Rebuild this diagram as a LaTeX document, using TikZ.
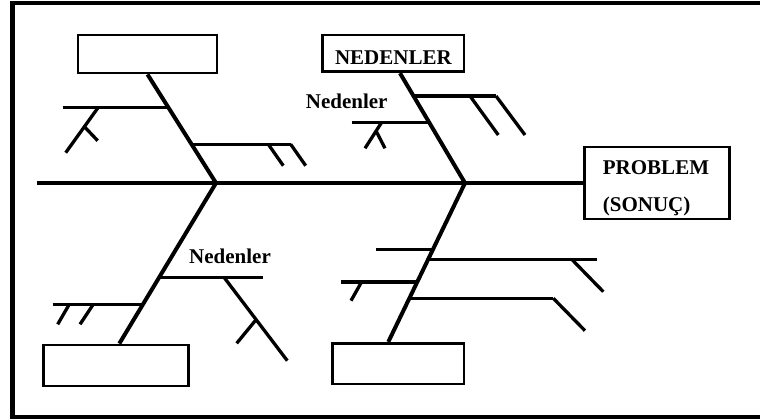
\documentclass[tikz,border=0pt]{standalone}
\usepackage{fontspec}
\setmainfont{Liberation Serif}
\usetikzlibrary{calc}
\begin{document}
\begin{tikzpicture}[x=1pt,y=-1pt,
  frame/.style={line width=4.5pt},
  spine/.style={line width=4.2pt},
  bone/.style={line width=4pt},
  twig/.style={line width=3.6pt},
  tick/.style={line width=3.3pt},
  box/.style={draw, line width=2.8pt, inner sep=0pt},
  lbl/.style={font=\bfseries\fontsize{21}{25}\selectfont}]
\useasboundingbox (0,0) rectangle (760,420);

% outer frame, open on the right
\coordinate (fTR) at (760,3);
\coordinate (fTL) at (12.5,3);
\coordinate (fBL) at (12.5,417);
\coordinate (fBR) at (760,417);
\draw[frame] (fTR) -- (fTL) -- (fBL) -- (fBR);

% effect box
\node[box, lbl, anchor=west, align=left, text width=108pt, inner xsep=18.8pt,
      minimum height=72pt] (prob) at (582.7,183)
      {\rule{0pt}{24pt}PROBLEM\\[12pt](SONUÇ)};

% cause boxes
\node[box, minimum width=139pt, minimum height=38pt] (c1) at (147.5,54) {};
\node[box, lbl, minimum width=141.3pt, minimum height=36.7pt,
      text height=21.2pt, text depth=0pt] (c2) at (393.4,53.4) {NEDENLER};
\node[box, minimum width=145pt, minimum height=41pt] (c3) at (115.8,365.5) {};
\node[box, minimum width=131.3pt, minimum height=40.7pt] (c4) at (398.3,363.7) {};

% spine
\coordinate (tail) at (36.7,183);
\coordinate (J1) at (216,183);
\coordinate (J2) at (465,183);
\draw[spine] (tail) -- (prob.west);

% main bones
\coordinate (b2top) at ($(c2.south)+(6.6,0)$);
\coordinate (b3bot) at ($(c3.north)+(3.5,0)$);
\coordinate (b4bot) at ($(c4.north)+(-10,0)$);
\draw[bone] (c1.south) -- (J1);
\draw[bone] (b2top) -- (J2);
\draw[bone] (J1) -- (b3bot);
\draw[bone] (J2) -- (b4bot);

% --- upper left bone ---
\coordinate (a1) at (168.9,107.3);
\coordinate (a1e) at (62.7,107.3);
\coordinate (a1s) at (98.3,107.3);
\coordinate (a1t) at (65.7,152.7);
\coordinate (a1k) at (84.4,126.7);
\coordinate (a1m) at (97.7,140.7);
\draw[twig] (a1e) -- (a1);
\draw[tick] (a1s) -- (a1t);
\draw[tick] (a1k) -- (a1m);

\coordinate (a2) at (191.9,144.3);
\coordinate (a2e) at (290.7,144.3);
\coordinate (a2s) at (268.3,144.3);
\coordinate (a2t) at (283.3,165.7);
\coordinate (a2u) at (305.7,165.7);
\draw[twig] (a2) -- (a2e);
\draw[tick] (a2s) -- (a2t);
\draw[tick] (a2e) -- (a2u);

% --- upper right bone ---
\node[lbl] (n1) at (346.7,101.7) {Nedenler};
\coordinate (d1) at (414.2,96);
\coordinate (d1e) at (496,96);
\coordinate (d1s) at (470,96);
\coordinate (d1t) at (498.3,135);
\coordinate (d1u) at (525,135);
\draw[twig] (d1) -- (d1e);
\draw[tick] (d1s) -- (d1t);
\draw[tick] (d1e) -- (d1u);

\coordinate (d2) at (429.5,122.3);
\coordinate (d2e) at (351.7,122.3);
\coordinate (d2s) at (381.7,122.3);
\coordinate (d2t) at (365,148.3);
\coordinate (d2k) at (376.1,131);
\coordinate (d2m) at (385,148.3);
\draw[twig] (d2e) -- (d2);
\draw[tick] (d2s) -- (d2t);
\draw[tick] (d2k) -- (d2m);

% --- lower left bone ---
\node[lbl] (n2) at (230,256) {Nedenler};
\coordinate (g1) at (159.7,277.3);
\coordinate (g1e) at (263.3,277.3);
\coordinate (g1s) at (224,277.3);
\coordinate (g1t) at (287.3,360.7);
\coordinate (g1k) at (255.8,320);
\coordinate (g1m) at (236.7,343.3);
\draw[twig] (g1) -- (g1e);
\draw[tick] (g1s) -- (g1t);
\draw[tick] (g1k) -- (g1m);

\coordinate (g2) at (143.6,304.3);
\coordinate (g2e) at (52.7,304.3);
\coordinate (g2s) at (69.3,304.3);
\coordinate (g2t) at (57.7,324.3);
\coordinate (g2u) at (93.3,304.3);
\coordinate (g2v) at (80,324.3);
\draw[twig] (g2e) -- (g2);
\draw[tick] (g2s) -- (g2t);
\draw[tick] (g2u) -- (g2v);

% --- lower right bone ---
\coordinate (h1) at (433.3,249.3);
\coordinate (h1e) at (376,249.3);
\draw[twig] (h1e) -- (h1);

\coordinate (h2) at (428.5,259.3);
\coordinate (h2e) at (597.3,259.3);
\coordinate (h2s) at (571.7,259.3);
\coordinate (h2t) at (603.3,291.7);
\draw[twig] (h2) -- (h2e);
\draw[tick] (h2s) -- (h2t);

\coordinate (h3) at (417.8,281.7);
\coordinate (h3e) at (341,281.7);
\coordinate (h3s) at (361.7,281.7);
\coordinate (h3t) at (351,300.7);
\draw[twig] (h3e) -- (h3);
\draw[tick] (h3s) -- (h3t);

\coordinate (h4) at (409.8,298.3);
\coordinate (h4e) at (553.3,298.3);
\coordinate (h4t) at (585,330.7);
\draw[twig] (h4) -- (h4e);
\draw[tick] (h4e) -- (h4t);
\end{tikzpicture}
\end{document}
